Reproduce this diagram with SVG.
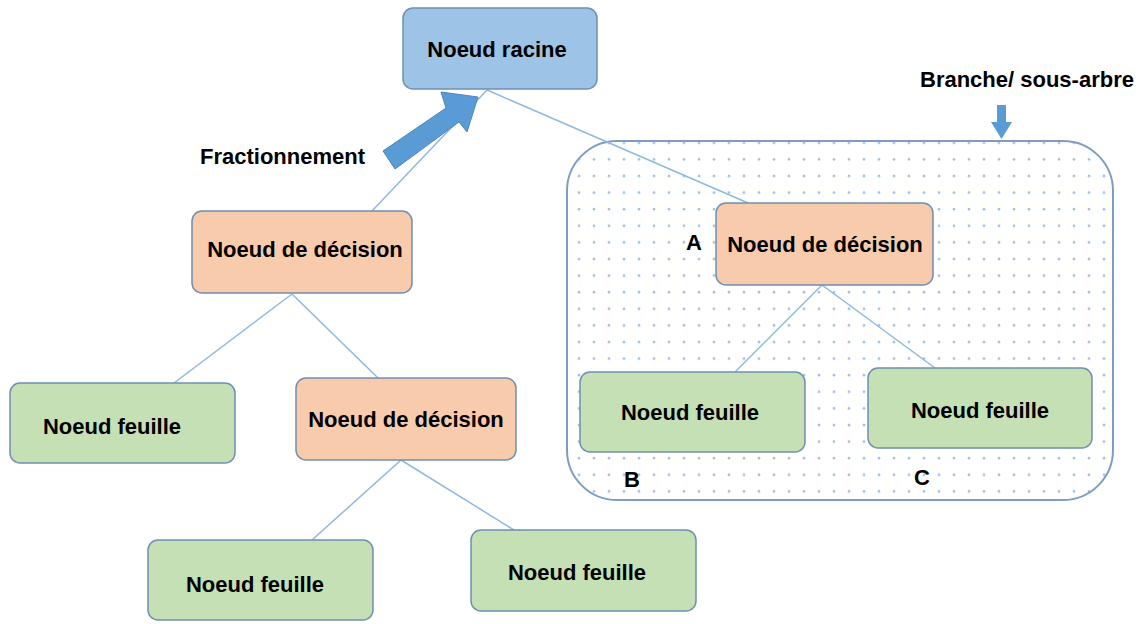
<svg xmlns="http://www.w3.org/2000/svg" width="1146" height="624" viewBox="0 0 1146 624">
<defs>
<style>
.t{font-family:"Liberation Sans",Arial,sans-serif;font-weight:bold;font-size:22px;fill:#000;text-anchor:middle}
.lab{font-family:"Liberation Sans",Arial,sans-serif;font-weight:bold;font-size:22px;fill:#000}
.root{fill:#9DC3E6;stroke:#6F8FB0;stroke-width:1.5}
.dec{fill:#F8CBAD;stroke:#6F8FB0;stroke-width:1.5}
.leaf{fill:#C5E0B4;stroke:#6F8FB0;stroke-width:1.5}
.con{stroke:#8DB8E0;stroke-width:1.5;fill:none}
</style>
<pattern id="dots" x="2" y="3" width="15" height="16.6" patternUnits="userSpaceOnUse">
<circle cx="7" cy="7" r="1.3" fill="#9DC0E4"/>
</pattern>
</defs>
<rect width="1146" height="624" fill="#fff"/>
<g id="subtree">
<rect x="567" y="141" width="546" height="359" rx="50" fill="url(#dots)" stroke="#7F9DC0" stroke-width="2"/>
</g>
<g id="connectors">
<line class="con" x1="487" y1="90" x2="372" y2="211"/>
<line class="con" x1="487" y1="90" x2="748" y2="203"/>
<line class="con" x1="292" y1="294" x2="174" y2="383"/>
<line class="con" x1="292" y1="294" x2="378" y2="378"/>
<line class="con" x1="401" y1="460" x2="312" y2="540"/>
<line class="con" x1="401" y1="460" x2="514" y2="530"/>
<line class="con" x1="822" y1="285" x2="735" y2="372"/>
<line class="con" x1="822" y1="285" x2="935" y2="368"/>
</g>
<g id="arrow-fractionnement">
<polygon points="383,151 446,108 441,92 478,97 467,132 459,122 395,169" fill="#5B9BD5" stroke="#4A86C0" stroke-width="1"/>
<text class="lab" x="200" y="164">Fractionnement</text>
</g>
<g id="arrow-branche">
<polygon points="997,105 1006,105 1006,122 1012,122 1001.5,139 991,122 997,122" fill="#5B9BD5"/>
<text class="lab" x="920" y="87">Branche/ sous-arbre</text>
</g>
<g id="root">
<rect class="root" x="403" y="8" width="194" height="81" rx="10"/>
<text class="t" x="497" y="57">Noeud racine</text>
</g>
<g id="decision1">
<rect class="dec" x="192" y="211" width="220" height="82" rx="10"/>
<text class="t" x="305" y="257">Noeud de décision</text>
</g>
<g id="decisionA">
<rect class="dec" x="716" y="203" width="217" height="82" rx="10"/>
<text class="t" x="825" y="252">Noeud de décision</text>
<text class="lab" x="686" y="250" font-size="20">A</text>
</g>
<g id="decision3">
<rect class="dec" x="296" y="378" width="220" height="82" rx="10"/>
<text class="t" x="406" y="427">Noeud de décision</text>
</g>
<g id="leaf1">
<rect class="leaf" x="10" y="383" width="225" height="80" rx="10"/>
<text class="t" x="112" y="434">Noeud feuille</text>
</g>
<g id="leafB">
<rect class="leaf" x="580" y="372" width="225" height="80" rx="10"/>
<text class="t" x="690" y="420">Noeud feuille</text>
<text class="lab" x="624" y="487" font-size="20">B</text>
</g>
<g id="leafC">
<rect class="leaf" x="868" y="368" width="224" height="80" rx="10"/>
<text class="t" x="980" y="418">Noeud feuille</text>
<text class="lab" x="914" y="485" font-size="20">C</text>
</g>
<g id="leafBL">
<rect class="leaf" x="148" y="540" width="225" height="80" rx="10"/>
<text class="t" x="255" y="592">Noeud feuille</text>
</g>
<g id="leafBR">
<rect class="leaf" x="471" y="530" width="225" height="81" rx="10"/>
<text class="t" x="577" y="580">Noeud feuille</text>
</g>
</svg>
